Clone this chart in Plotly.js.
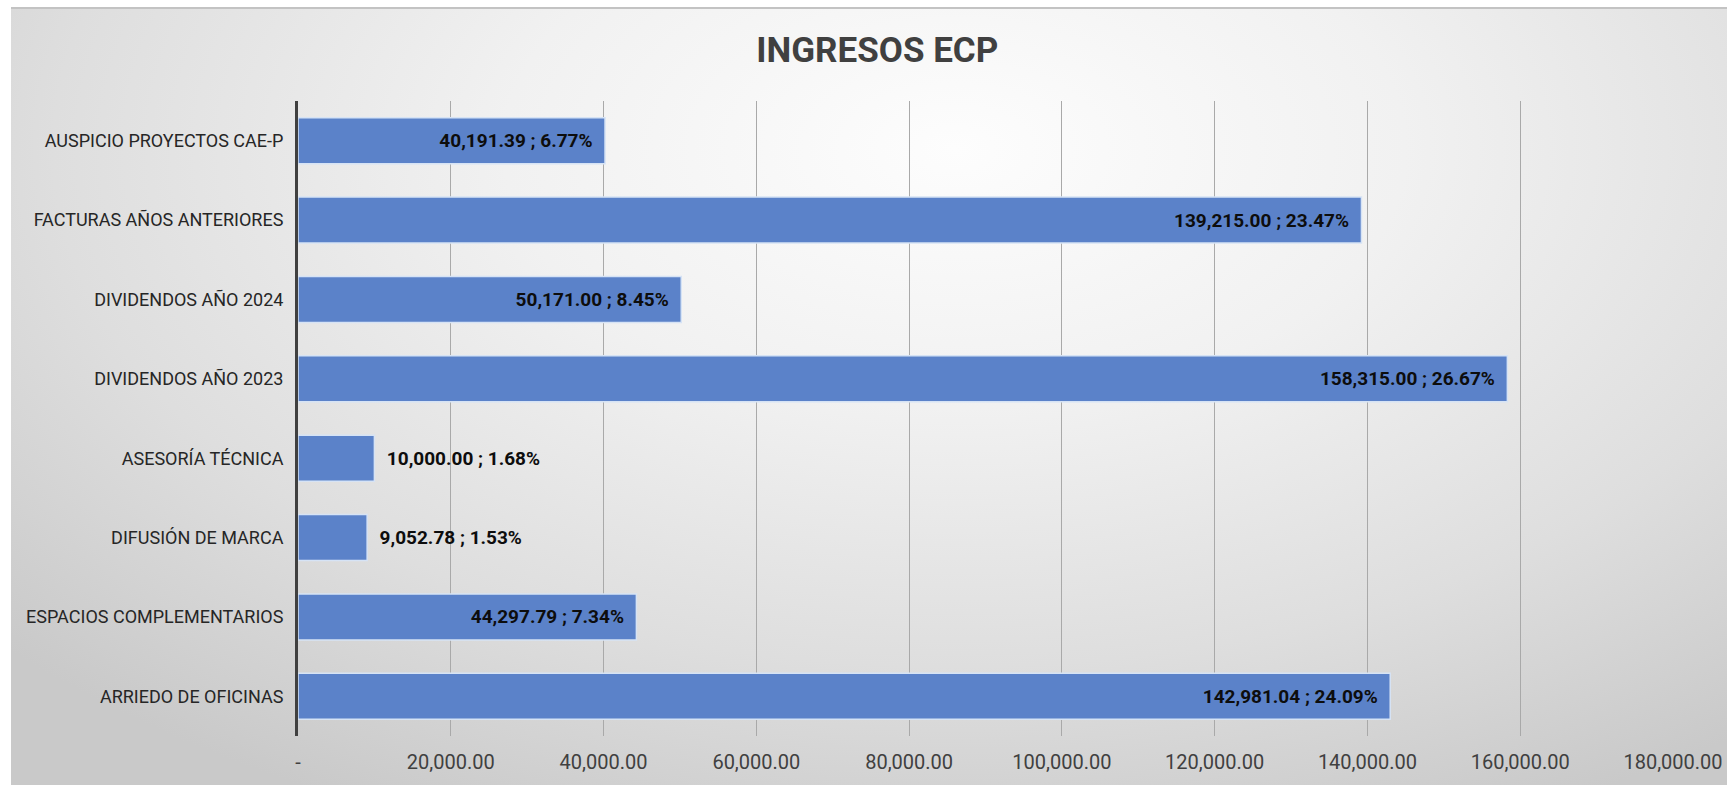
<!DOCTYPE html>
<html>
<head>
<meta charset="utf-8">
<script src="https://cdn.plot.ly/plotly-3.0.1.min.js"></script>
<style>
  html, body { margin: 0; padding: 0; background: #ffffff; width: 1727px; height: 785px; overflow: hidden; }
  #bg {
    position: absolute; left: 11px; top: 7px; width: 1716px; height: 778px;
    border-top: 2px solid #c3c3c3;
    background: radial-gradient(ellipse 75% 95% at 55% 18%, #fdfdfd 0%, #f1f1f1 35%, #dedede 70%, #c9c9c9 100%);
  }
  #chart { position: absolute; left: 0; top: 0; width: 1727px; height: 785px; }
</style>
</head>
<body>
<div id="bg"></div>
<div id="chart"></div>
<script>
// Categories listed bottom to top
const categories = [
  "ARRIEDO DE OFICINAS",
  "ESPACIOS COMPLEMENTARIOS",
  "DIFUSIÓN DE MARCA",
  "ASESORÍA TÉCNICA",
  "DIVIDENDOS AÑO 2023",
  "DIVIDENDOS AÑO 2024",
  "FACTURAS AÑOS ANTERIORES",
  "AUSPICIO PROYECTOS CAE-P"
];
const values = [142981.04, 44297.79, 9052.78, 10000.00, 158315.00, 50171.00, 139215.00, 40191.39];
const percents = ["24.09%", "7.34%", "1.53%", "1.68%", "26.67%", "8.45%", "23.47%", "6.77%"];
const tickValues = [0, 20000, 40000, 60000, 80000, 100000, 120000, 140000, 160000, 180000];
const tickLabels = ["-", "20,000.00", "40,000.00", "60,000.00", "80,000.00", "100,000.00", "120,000.00", "140,000.00", "160,000.00", "180,000.00"];

const fmt = v => v.toLocaleString("en-US", {minimumFractionDigits: 2, maximumFractionDigits: 2});
const PAD = "\u00a0\u00a0";
const labels = values.map((v, i) => PAD + fmt(v) + " ; " + percents[i] + PAD);

const FONT = 'Roboto, "Liberation Sans", sans-serif';

const trace = {
  type: "bar",
  orientation: "h",
  y: categories,
  x: values,
  text: labels,
  textposition: "auto",
  insidetextanchor: "end",
  constraintext: "none",
  cliponaxis: false,
  textfont: {family: FONT, size: 19, color: "#0d0d0d", weight: "bold"},
  insidetextfont: {family: FONT, size: 19, color: "#0d0d0d", weight: "bold"},
  outsidetextfont: {family: FONT, size: 19, color: "#0d0d0d", weight: "bold"},
  marker: {color: "#5b82c9", line: {color: "#d6e3f5", width: 1.5}},
  hoverinfo: "skip"
};

const layout = {
  width: 1727,
  height: 785,
  margin: {l: 298, r: 54, t: 101, b: 49},
  paper_bgcolor: "rgba(0,0,0,0)",
  plot_bgcolor: "rgba(0,0,0,0)",
  bargap: 0.42,
  showlegend: false,
  title: {
    text: "INGRESOS ECP",
    x: 0.508, xanchor: "center",
    yref: "container", y: 0.937, yanchor: "middle",
    font: {family: FONT, size: 35, color: "#404040", weight: "bold"}
  },
  xaxis: {
    range: [0, 180000],
    tickvals: tickValues,
    ticktext: tickLabels,
    showgrid: true,
    gridcolor: "#a9a9a9",
    gridwidth: 1,
    zeroline: false,
    showline: false,
    ticks: "",
    ticklabelstandoff: 12,
    tickfont: {family: FONT, size: 20, color: "#404040"},
    fixedrange: true
  },
  yaxis: {
    type: "category",
    categoryorder: "array",
    categoryarray: categories,
    showgrid: false,
    zeroline: false,
    showline: true,
    linecolor: "#404040",
    linewidth: 3,
    ticks: "",
    ticklabelstandoff: 8,
    tickfont: {family: FONT, size: 18, color: "#262626"},
    fixedrange: true
  }
};

Plotly.newPlot("chart", [trace], layout, {displayModeBar: false, staticPlot: true});
</script>
</body>
</html>
